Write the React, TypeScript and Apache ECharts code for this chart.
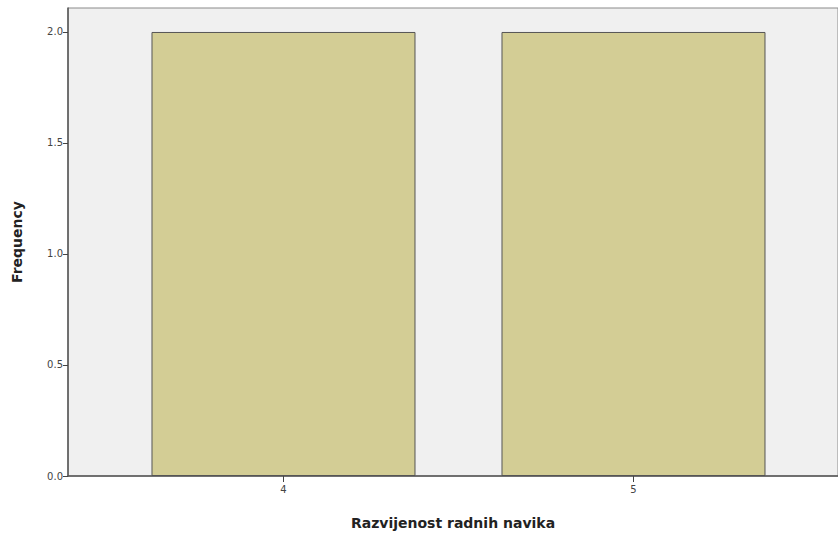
import React, { useEffect, useRef } from "react";
import * as echarts from "echarts";

const categories = [4, 5];
const frequencies = [2, 2];
const yTicks = [0, 0.5, 1.0, 1.5, 2.0];
const xTitle = "Razvijenost radnih navika";
const yTitle = "Frequency";

export default function App() {
  const ref = useRef<HTMLDivElement>(null);
  useEffect(() => {
    if (!ref.current) return;
    const chart = echarts.init(ref.current, null, { renderer: "svg" });
    chart.setOption({
      animation: false,
      backgroundColor: "#ffffff",
      grid: {
        left: 68,
        right: 0,
        top: 8,
        bottom: 70,
        show: true,
        backgroundColor: "#f0f0f0",
        borderColor: "#8a8a8a",
        borderWidth: 1,
      },
      xAxis: {
        type: "value",
        min: 3.3843,
        max: 5.5843,
        name: xTitle,
        nameLocation: "middle",
        nameGap: 40,
        nameTextStyle: {
          fontFamily: "DejaVu Sans",
          fontWeight: "bold",
          fontSize: 14,
          color: "#222",
        },
        splitLine: { show: false },
        axisLine: { show: true, lineStyle: { color: "#555", width: 1.5 } },
        axisTick: {
          show: true,
          length: 6,
          customValues: categories,
          lineStyle: { color: "#444" },
        },
        axisLabel: {
          customValues: categories,
          fontFamily: "DejaVu Sans",
          fontSize: 10,
          color: "#444",
          margin: 8,
        },
      },
      yAxis: {
        type: "value",
        min: 0,
        max: 2.108,
        name: yTitle,
        nameLocation: "middle",
        nameGap: 44,
        nameRotate: 90,
        nameTextStyle: {
          fontFamily: "DejaVu Sans",
          fontWeight: "bold",
          fontSize: 14,
          color: "#222",
        },
        splitLine: { show: false },
        axisLine: { show: true, lineStyle: { color: "#555", width: 1.5 } },
        axisTick: {
          show: true,
          length: 5,
          customValues: yTicks,
          lineStyle: { color: "#444" },
        },
        axisLabel: {
          customValues: yTicks,
          formatter: (v: number) => v.toFixed(1),
          fontFamily: "DejaVu Sans",
          fontSize: 10,
          color: "#444",
          margin: 5,
        },
      },
      series: [
        {
          type: "bar",
          data: categories.map((c, i) => [c, frequencies[i]]),
          barWidth: 264,
          itemStyle: {
            color: "#d3cd95",
            borderColor: "#555",
            borderWidth: 1,
          },
        },
      ],
    });
    return () => chart.dispose();
  }, []);
  return (
    <div
      ref={ref}
      style={{ position: "fixed", left: 0, top: 0, width: 838, height: 546 }}
    />
  );
}
